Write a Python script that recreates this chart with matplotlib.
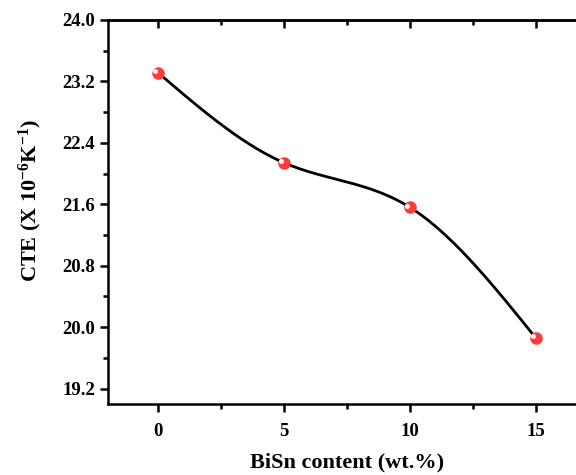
import numpy as np
import matplotlib.pyplot as plt
from matplotlib.ticker import MultipleLocator

# data
bisn_content = [0, 5, 10, 15]
cte_values = [23.31, 22.14, 21.56, 19.86]
y_ticks = [19.2, 20.0, 20.8, 21.6, 22.4, 23.2, 24.0]


def natural_spline(x, y, n=200):
    x = np.asarray(x, float)
    y = np.asarray(y, float)
    k = len(x)
    h = np.diff(x)
    A = np.zeros((k, k))
    b = np.zeros(k)
    A[0, 0] = A[-1, -1] = 1
    for i in range(1, k - 1):
        A[i, i - 1] = h[i - 1]
        A[i, i] = 2 * (h[i - 1] + h[i])
        A[i, i + 1] = h[i]
        b[i] = 3 * ((y[i + 1] - y[i]) / h[i] - (y[i] - y[i - 1]) / h[i - 1])
    c = np.linalg.solve(A, b)
    xs = np.linspace(x[0], x[-1], n)
    ys = np.empty_like(xs)
    for j, xv in enumerate(xs):
        i = min(np.searchsorted(x, xv, side="right") - 1, k - 2)
        dx = xv - x[i]
        bi = (y[i + 1] - y[i]) / h[i] - h[i] * (2 * c[i] + c[i + 1]) / 3
        di = (c[i + 1] - c[i]) / (3 * h[i])
        ys[j] = y[i] + bi * dx + c[i] * dx ** 2 + di * dx ** 3
    return xs, ys


plt.rcParams["font.family"] = ["Liberation Serif", "DejaVu Serif"]
plt.rcParams["font.weight"] = "bold"
plt.rcParams["mathtext.fontset"] = "custom"
plt.rcParams["mathtext.rm"] = "Liberation Serif:bold"
plt.rcParams["mathtext.default"] = "rm"

fig = plt.figure(figsize=(5.76, 4.75), dpi=100)
ax = fig.add_axes([0.1875, 0.1495, 0.83, 0.8085])

xs, ys = natural_spline(bisn_content, cte_values)
ax.plot(xs, ys, color="black", linewidth=2, zorder=2)
ax.plot(bisn_content, cte_values, "o", color="#ff3b3b", markersize=8,
        markeredgecolor="#ff3b3b", zorder=3)
ax.plot(np.array(bisn_content) - 0.12, np.array(cte_values) + 0.02, "o",
        color="white", markersize=2.5, zorder=4)

ax.set_xlim(-2, 17)
ax.set_ylim(19.0, 24.0)
ax.xaxis.set_major_locator(MultipleLocator(5))
ax.xaxis.set_minor_locator(MultipleLocator(2.5))
ax.yaxis.set_minor_locator(MultipleLocator(0.4))
ax.set_yticks(y_ticks)
ax.set_yticklabels([f"{v:.1f}" for v in y_ticks])

for s in ax.spines.values():
    s.set_linewidth(1.8)

ax.tick_params(axis="x", which="both", direction="out", top=False, width=1.8)
ax.tick_params(axis="y", which="both", direction="out", right=False, width=1.8)
ax.tick_params(which="major", length=6, labelsize=13.5)
ax.tick_params(which="minor", length=3.5)
ax.tick_params(axis="x", pad=8)

# inward ticks mirrored on top
top = ax.secondary_xaxis("top")
top.xaxis.set_major_locator(MultipleLocator(5))
top.xaxis.set_minor_locator(MultipleLocator(2.5))
top.tick_params(which="both", direction="in", width=1.8, labeltop=False)
top.tick_params(which="major", length=6)
top.tick_params(which="minor", length=3.5)
top.spines["top"].set_linewidth(1.8)

ax.set_xlabel("BiSn content (wt.%)", fontsize=16, fontweight="bold")
ax.set_ylabel(r"CTE (X 10$^{-6}$K$^{-1}$)", fontsize=16, fontweight="bold")
ax.xaxis.set_label_coords(0.5, -0.127)
ax.yaxis.set_label_coords(-0.134, 0.529)

fig.savefig("out.png", dpi=100)
